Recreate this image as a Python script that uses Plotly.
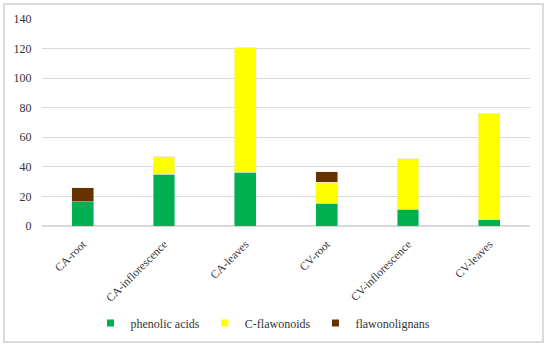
import plotly.graph_objects as go

categories = ["CA-root", "CA-inflorescence", "CA-leaves", "CV-root", "CV-inflorescence", "CV-leaves"]
phenolic_acids = [16.5, 34.9, 36.3, 15.3, 11.3, 4.1]
c_flavonoids = [0, 12.4, 84.4, 14.4, 34.6, 72.0]
flavonolignans = [9.3, 0, 0, 7.0, 0, 0]
y_ticks = [0, 20, 40, 60, 80, 100, 120, 140]
series_names = ["phenolic acids", "C-flawonoids", "flawonolignans"]
series_colors = ["#00b050", "#ffff00", "#663300"]

font = "Liberation Serif, Times New Roman, serif"
W, H = 550, 347
L, T, R, B = 42, 19, 20, 121
pw, ph = W - L - R, H - T - B

fig = go.Figure()
for vals, name, col in zip([phenolic_acids, c_flavonoids, flavonolignans], series_names, series_colors):
    fig.add_bar(x=categories, y=vals, name=name, marker_color=col, showlegend=False)
# legend entries with small square symbols
for name, col in zip(series_names, series_colors):
    fig.add_scatter(x=[None], y=[None], mode="markers", name=name,
                    marker=dict(symbol="square", size=7, color=col))

fig.update_layout(
    barmode="stack",
    bargap=0.73,
    width=W, height=H,
    margin=dict(l=L, r=R, t=T, b=B, pad=0),
    paper_bgcolor="white", plot_bgcolor="white",
    font=dict(family=font, size=12, color="#333333"),
    showlegend=True,
    legend=dict(orientation="h", x=263 / W, xanchor="center", xref="container",
                y=(H - 323) / H, yanchor="middle", yref="container",
                traceorder="normal",
                font=dict(family=font, size=12, color="#333333"),
                itemwidth=30, tracegroupgap=0),
    xaxis=dict(tickangle=-45, showgrid=False, showline=False, ticks="outside", ticklen=6,
               tickcolor="rgba(0,0,0,0)", automargin=False,
               tickfont=dict(family=font, size=11.5, color="#333333")),
    yaxis=dict(range=[0, 140], tickvals=y_ticks, showgrid=True, gridcolor="#d9d9d9",
               zeroline=True, zerolinecolor="#d9d9d9", showline=False,
               ticks="outside", ticklen=7, tickcolor="rgba(0,0,0,0)",
               automargin=False,
               tickfont=dict(family=font, size=12, color="#333333")),
    shapes=[dict(type="rect", xref="paper", yref="paper",
                 x0=(4 - L) / pw, x1=(543 - L) / pw,
                 y0=(H - B - 342) / ph, y1=(H - B - 4) / ph,
                 line=dict(color="#d0d0d0", width=1.5), fillcolor="rgba(0,0,0,0)", layer="above")],
)

fig.write_html("out.html", config={"displayModeBar": False},
               post_script="document.body.style.margin='0';")
